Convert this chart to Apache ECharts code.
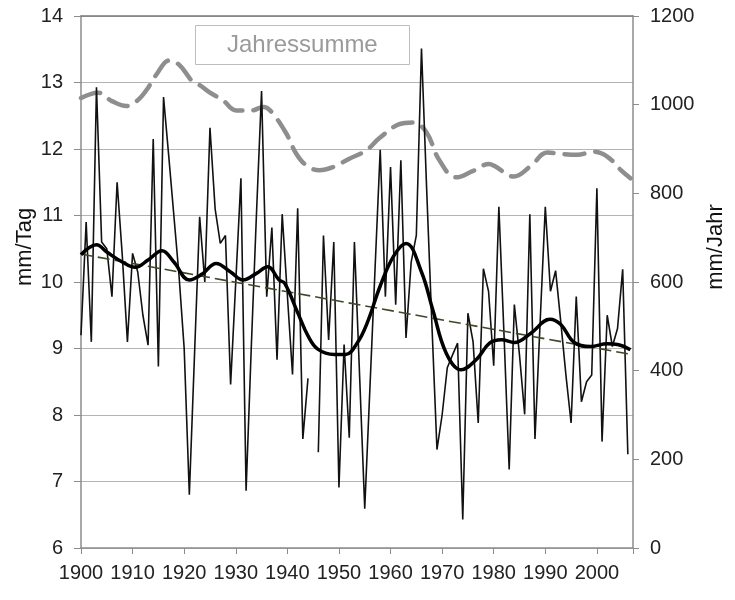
<!DOCTYPE html>
<html>
<head>
<meta charset="utf-8">
<script src="https://cdn.jsdelivr.net/npm/echarts@6/dist/echarts.min.js"></script>
<style>
  html, body { margin: 0; padding: 0; background: #fff; }
  #chart { width: 735px; height: 600px; }
</style>
</head>
<body>
<div id="chart"></div>
<script>
// annual mean, mm/Tag, 1900..2006 (1945 missing)
const firstYear = 1900;
const dailyValues = [
  9.2, 10.9, 9.1, 12.93, 10.6, 10.5, 9.78, 11.5, 10.4, 9.1,
  10.43, 10.15, 9.5, 9.05, 12.15, 8.73, 12.78, 11.9, 11.0, 10.1,
  9.0, 6.8, 8.9, 10.98, 10.0, 12.32, 11.1, 10.58, 10.7, 8.46,
  10.0, 11.56, 6.86, 9.0, 11.0, 12.87, 9.78, 10.82, 8.83, 11.02,
  9.8, 8.61, 11.11, 7.64, 8.55, null, 7.44, 10.7, 9.13, 10.6,
  6.91, 9.06, 7.66, 10.6, 8.6, 6.59, 8.4, 10.2, 11.99, 9.78,
  11.73, 9.66, 11.83, 9.16, 10.3, 10.7, 13.51, 11.4, 9.4, 7.48,
  8.0, 8.71, 8.9, 9.08, 6.43, 9.53, 9.1, 7.88, 10.2, 9.86,
  8.74, 11.13, 9.2, 7.18, 9.66, 8.9, 8.01, 11.02, 7.64, 9.4,
  11.13, 9.86, 10.17, 9.4, 8.6, 7.88, 9.78, 8.2, 8.5, 8.6,
  11.41, 7.6, 9.5, 9.03, 9.3, 10.19, 7.41
];

// smoothed curve (year, mm/Tag)
const smoothYears = [1900, 1903, 1905, 1908, 1910.5, 1913, 1915.7, 1918, 1921, 1923.5,
  1926.2, 1929, 1931.4, 1934, 1936.2, 1938.4, 1939.5, 1942, 1944, 1945.9,
  1949.1, 1951.3, 1953.6, 1955.5, 1958, 1960.6, 1963, 1966, 1968.2, 1970.8,
  1973.7, 1976.6, 1979.2, 1981.5, 1984, 1987.2, 1990.9, 1993, 1995.6, 1998.8,
  2002, 2004, 2006.5];
const smoothValues = [10.41, 10.56, 10.45, 10.3, 10.22, 10.33, 10.47, 10.3, 10.03, 10.12,
  10.28, 10.15, 10.03, 10.13, 10.23, 10.03, 9.98, 9.54, 9.19, 8.99,
  8.91, 8.91, 9.09, 9.39, 9.94, 10.39, 10.58, 10.15, 9.58, 8.93,
  8.68, 8.83, 9.08, 9.13, 9.09, 9.23, 9.44, 9.36, 9.09, 9.03,
  9.07, 9.06, 8.98];

// linear trend (mm/Tag)
const trendYears = [1900, 2006];
const trendValues = [10.42, 8.92];

// Jahressumme, mm/Jahr
const sumYears = [1900, 1903.3, 1906, 1908.8, 1911, 1912.7, 1914.5, 1917.2, 1919.1, 1921.7,
  1923, 1925, 1927.5, 1930.1, 1933, 1935.4, 1936.9, 1939.8, 1941.7, 1943.7,
  1946.2, 1948.8, 1952, 1955.3, 1957.8, 1961.7, 1964.3, 1966.9, 1969.4, 1972.7,
  1975.9, 1979.1, 1980.1, 1983.9, 1987.2, 1990.4, 1993, 1996.2, 1999.4, 2002,
  2004.6, 2006.5];
const sumValues = [1015, 1027, 1008, 997, 1010, 1033, 1066, 1100, 1089, 1051,
  1044, 1027, 1010, 987, 987, 995, 984, 935, 890, 863,
  852, 859, 878, 897, 924, 956, 960, 939, 876, 836,
  850, 866, 862, 838, 862, 892, 889, 887, 894, 883,
  853, 834];

const pairs = (xs, ys) => xs.map((x, i) => [x, ys[i]]);
const dailyData = dailyValues.map((v, i) => [firstYear + i, v]);

const font = 'Liberation Sans, Arial, sans-serif';
const chart = echarts.init(document.getElementById('chart'));

chart.setOption({
  animation: false,
  backgroundColor: '#fff',
  title: {
    text: 'Jahressumme',
    left: 195,
    top: 25,
    padding: [8, 32, 8, 32],
    borderColor: '#bdbdbd',
    borderWidth: 1,
    textStyle: { color: '#9a9a9a', fontSize: 24, fontWeight: 'normal', fontFamily: font }
  },
  grid: { left: 81, right: 102, top: 16, bottom: 52 },
  xAxis: [
    {
      type: 'value',
      min: 1900,
      max: 2007,
      interval: 10,
      splitLine: { show: false },
      axisLine: { lineStyle: { color: '#8c8c8c', width: 1.5 } },
      axisTick: { length: 6, lineStyle: { color: '#8c8c8c' } },
      axisLabel: {
        margin: 15,
        color: '#222',
        fontSize: 20,
        fontFamily: font,
        formatter: v => (v % 10 === 0 ? String(v) : '')
      }
    },
    {
      type: 'value',
      position: 'top',
      min: 1900,
      max: 2007,
      axisLine: { show: true, lineStyle: { color: '#7a7a7a', width: 1.5 } },
      axisTick: { show: false },
      axisLabel: { show: false },
      splitLine: { show: false }
    }
  ],
  yAxis: [
    {
      type: 'value',
      min: 6,
      max: 14,
      interval: 1,
      axisLine: { show: true, lineStyle: { color: '#8c8c8c', width: 1.5 } },
      axisTick: { show: true, length: 7, lineStyle: { color: '#8c8c8c' } },
      splitLine: { lineStyle: { color: '#b4b4b4', width: 1 } },
      axisLabel: { margin: 18, color: '#222', fontSize: 20, fontFamily: font }
    },
    {
      type: 'value',
      min: 0,
      max: 1200,
      interval: 200,
      position: 'right',
      axisLine: { show: true, lineStyle: { color: '#8c8c8c', width: 1.5 } },
      axisTick: { show: true, length: 6, lineStyle: { color: '#8c8c8c' } },
      splitLine: { show: false },
      axisLabel: { margin: 17, color: '#222', fontSize: 20, fontFamily: font, formatter: v => String(v) }
    }
  ],
  graphic: [
    {
      type: 'text',
      x: 14, y: 247,
      rotation: Math.PI / 2,
      style: { text: 'mm/Tag', fill: '#111', font: '22px ' + font, textAlign: 'center', textVerticalAlign: 'top' }
    },
    {
      type: 'text',
      x: 705, y: 247,
      rotation: Math.PI / 2,
      style: { text: 'mm/Jahr', fill: '#111', font: '22px ' + font, textAlign: 'center', textVerticalAlign: 'top' }
    }
  ],
  series: [
    {
      name: 'Jahressumme',
      type: 'line',
      yAxisIndex: 1,
      data: pairs(sumYears, sumValues),
      smooth: 0.4,
      showSymbol: false,
      lineStyle: { color: '#8e8e8e', width: 4.5, type: [20, 11], cap: 'round' },
      z: 2
    },
    {
      name: 'Tageswert',
      type: 'line',
      data: dailyData,
      connectNulls: false,
      showSymbol: false,
      lineStyle: { color: '#111', width: 1.6 },
      z: 3
    },
    {
      name: 'Trend',
      type: 'line',
      data: pairs(trendYears, trendValues),
      showSymbol: false,
      lineStyle: { color: '#3b4a26', width: 1.6, type: [12, 5] },
      z: 4
    },
    {
      name: 'Glättung',
      type: 'line',
      data: pairs(smoothYears, smoothValues),
      smooth: 0.4,
      showSymbol: false,
      lineStyle: { color: '#000', width: 3.5 },
      z: 5
    }
  ]
});
</script>
</body>
</html>
